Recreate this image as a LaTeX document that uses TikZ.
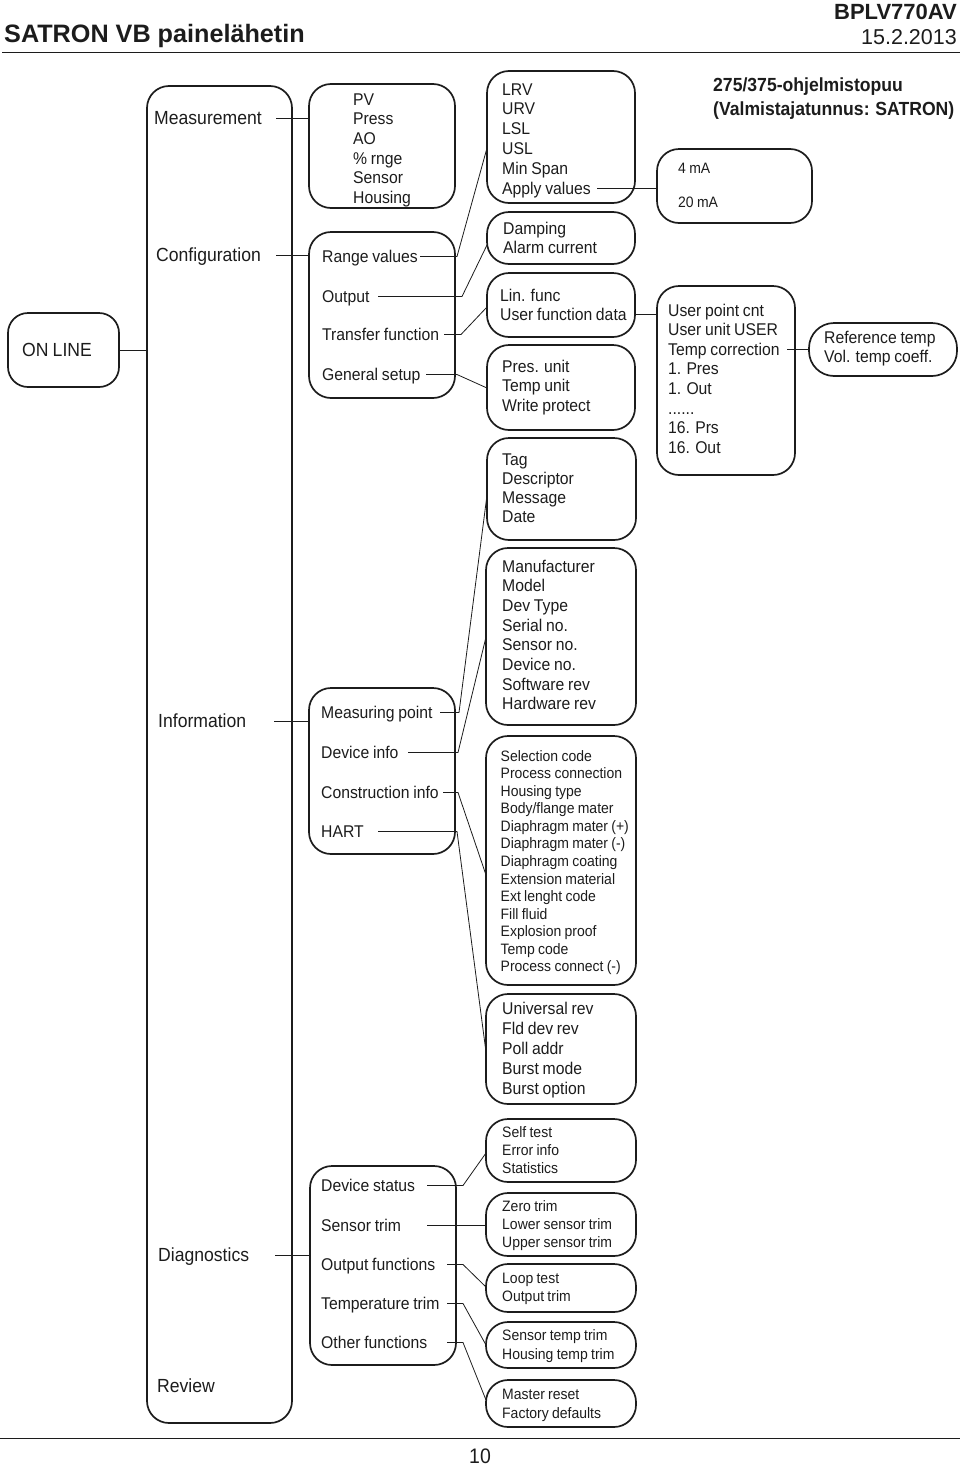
\documentclass[tikz,border=0pt]{standalone}
\usepackage{fontspec}
\setmainfont{Liberation Sans}[FakeStretch=0.926, WordSpace=0.85]
\newfontfamily\hdfont{Liberation Sans}
\definecolor{ink}{HTML}{1C1C1C}
\newcommand\sixdots{......}
% #1 style, #2 name prefix, #3 x, #4 first baseline, #5 line step, #6 list
\newcommand\stacklines[6]{%
  \foreach \itm [count=\ii from 1] in {#6}{%
    \node[#1] (#2\ii) at (#3,{#4+(\ii-1)*#5}) {\itm};}}
% #1 radius, #2 x1, #3 y1, #4 x2, #5 y2, #6 name
\newcommand\rbox[6][22]{%
  \node[box=#1, minimum width={#4-#2}, minimum height={#5-#3}] (#6) at (#2,#3) {};}
\tikzset{
  txt/.style={inner sep=0pt, text=ink, anchor=base west,
    font=\fontsize{17}{20}\selectfont, text height=11pt, text depth=0pt},
  big/.style={txt, font=\fontsize{19}{22}\selectfont, text height=11.5pt},
  sml/.style={txt, font=\fontsize{15.1}{18}\selectfont, text height=10pt},
  box/.style={draw=ink, line width=1.7pt, rounded corners=#1pt,
    anchor=north west, inner sep=0pt, outer sep=0pt},
  box/.default=22,
  conn/.style={draw=ink, line width=0.8pt},
  rule/.style={draw=ink, line width=0.9pt},
}
\begin{document}
\begin{tikzpicture}[x=1pt,y=-1pt]
\useasboundingbox (0,0) rectangle (960,1467);

% ---------- header ----------
\node[inner sep=0pt, text=ink, anchor=base west,
  font=\hdfont\bfseries\fontsize{25.2}{30}\selectfont] (title) at (4,42) {SATRON VB painelähetin};
\node[inner sep=0pt, text=ink, anchor=base east,
  font=\hdfont\bfseries\fontsize{22}{26}\selectfont] (code) at (957,19) {BPLV770AV};
\node[inner sep=0pt, text=ink, anchor=base east,
  font=\hdfont\fontsize{21.5}{26}\selectfont] (date) at (957,44) {15.2.2013};
\draw[rule] (2,52) -- (960,52);
\node[txt, font=\bfseries\fontsize{19}{22}\selectfont] (sw1) at (713,91) {275/375-ohjelmistopuu};
\node[txt, font=\bfseries\fontsize{19}{22}\selectfont] (sw2) at (713,115) {(Valmistajatunnus: SATRON)};

% ---------- boxes ----------
\rbox[20]{8}{313}{119}{387}{online}
\rbox{147}{86}{292}{1423}{b1}
\rbox{309}{84}{455}{208}{meas}
\rbox{309}{232}{455}{398}{conf}
\rbox{309}{688}{455}{854}{info}
\rbox{310}{1166}{456}{1365}{diag}
\rbox{487}{71}{635}{203}{range}
\rbox{487}{212}{635}{264}{outp}
\rbox{487}{273}{635}{337}{trans}
\rbox{487}{345}{635}{430}{units}
\rbox{487}{438}{636}{540}{tag}
\rbox{486}{548}{636}{725}{devinfo}
\rbox{486}{736}{636}{985}{constr}
\rbox{486}{994}{636}{1104}{hart}
\rbox{486}{1119}{636}{1182}{status}
\rbox{486}{1193}{636}{1256}{strim}
\rbox{486}{1264}{636}{1312}{ofunc}
\rbox{486}{1322}{636}{1368}{ttrim}
\rbox{486}{1380}{636}{1427}{other}
\rbox{657}{149}{812}{223}{ma}
\rbox{657}{286}{795}{475}{userpt}
\rbox[25]{809}{323}{957}{376}{reft}

% ---------- texts ----------
\node[big] (ol) at (22,356) {ON LINE};
\node[big] (l-meas) at (154,124) {Measurement};
\node[big] (l-conf) at (156,261) {Configuration};
\node[big] (l-info) at (158,727) {Information};
\node[big] (l-diag) at (158,1261) {Diagnostics};
\node[big] (l-rev) at (157,1392) {Review};

\stacklines{txt}{m}{353}{105}{19.7}{PV,Press,AO,\% rnge,Sensor,Housing}
\node[txt] (c-rv) at (322,262) {Range values};
\node[txt] (c-out) at (322,302) {Output};
\node[txt] (c-tf) at (322,340) {Transfer function};
\node[txt] (c-gs) at (322,380) {General setup};
\node[txt] (i-mp) at (321,718) {Measuring point};
\node[txt] (i-di) at (321,758) {Device info};
\node[txt] (i-ci) at (321,798) {Construction info};
\node[txt] (i-hart) at (321,837) {HART};
\node[txt] (d-ds) at (321,1191) {Device status};
\node[txt] (d-st) at (321,1231) {Sensor trim};
\node[txt] (d-of) at (321,1270) {Output functions};
\node[txt] (d-tt) at (321,1309) {Temperature trim};
\node[txt] (d-oth) at (321,1348) {Other functions};

\stacklines{txt}{r}{502}{95}{19.8}{LRV,URV,LSL,USL,Min Span,Apply values}
\stacklines{txt}{o}{503}{234}{19}{Damping,Alarm current}
\stacklines{txt}{t}{500}{301}{19}{Lin. func,User function data}
\stacklines{txt}{u}{502}{372}{19.5}{Pres. unit,Temp unit,Write protect}
\stacklines{txt}{g}{502}{465}{19.3}{Tag,Descriptor,Message,Date}
\stacklines{txt}{v}{502}{572}{19.7}{Manufacturer,Model,Dev Type,Serial no.,Sensor no.,Device no.,Software rev,Hardware rev}
\stacklines{sml}{k}{500.5}{761}{17.57}{Selection code,Process connection,Housing type,Body/flange mater,Diaphragm mater (+),Diaphragm mater (-),Diaphragm coating,Extension material,Ext lenght code,Fill fluid,Explosion proof,Temp code,Process connect (-)}
\stacklines{txt}{h}{502}{1014}{20}{Universal rev,Fld dev rev,Poll addr,Burst mode,Burst option}
\stacklines{sml}{s}{502}{1137}{18}{Self test,Error info,Statistics}
\stacklines{sml}{z}{502}{1211}{18}{Zero trim,Lower sensor trim,Upper sensor trim}
\stacklines{sml}{l}{502}{1283}{18.5}{Loop test,Output trim}
\stacklines{sml}{e}{502}{1340}{19}{Sensor temp trim,Housing temp trim}
\stacklines{sml}{f}{502}{1399}{19}{Master reset,Factory defaults}
\node[sml] (ma1) at (678,173) {4 mA};
\node[sml] (ma2) at (678,207) {20 mA};
\stacklines{txt}{p}{668}{316}{19.6}{User point cnt,User unit USER,Temp correction,1. Pres,1. Out,\sixdots,16. Prs,16. Out}
\stacklines{txt}{q}{824}{343}{19}{Reference temp,Vol. temp coeff.}

% ---------- connectors ----------
\draw[conn] (online.east) -- (online.east -| b1.west);
\draw[conn] (l-meas.east -| 276,0) -- (l-meas.east -| meas.west);
\draw[conn] (l-conf.east -| 276,0) -- (l-conf.east -| conf.west);
\draw[conn] (l-info.east -| 274,0) -- (l-info.east -| info.west);
\draw[conn] (l-diag.east -| 275,0) -- (l-diag.east -| diag.west);

\draw[conn] (c-rv.east -| 420,0) -- ++(37,0) -- (range.west |- 0,148);
\draw[conn] (c-out.east -| 378,0) -- ++(84,0) -- (outp.west |- 0,245);
\draw[conn] (c-tf.east -| 444,0) -- ++(17,0) -- (trans.west |- 0,307);
\draw[conn] (c-gs.east -| 426,0) -- ++(31,0) -- (units.west |- 0,388);
\draw[conn] (i-mp.east -| 440,0) -- ++(19,0) -- (tag.west |- 0,495);
\draw[conn] (i-di.east -| 408,0) -- ++(50,0) -- (devinfo.west |- 0,637);
\draw[conn] (i-ci.east -| 443,0) -- ++(15,0) -- (constr.west |- 0,875);
\draw[conn] (i-hart.east -| 378,0) -- ++(79,0) -- (hart.west |- 0,1052);

\draw[conn] (r6.east -| 597,0) -- (r6.east -| ma.west);
\draw[conn] (t2.east -| trans.east) -- (t2.east -| userpt.west);
\draw[conn] (p3.east -| 787,0) -- (p3.east -| reft.west);

\draw[conn] (d-ds.east -| 427,0) -- ++(36,0) -- (status.west |- 0,1153);
\draw[conn] (d-st.east -| 427,0) -- (d-st.east -| strim.west);
\draw[conn] (d-of.east -| 447,0) -- ++(16,0) -- (ofunc.west |- 0,1287);
\draw[conn] (d-tt.east -| 447,0) -- ++(16,0) -- (ttrim.west |- 0,1345);
\draw[conn] (d-oth.east -| 447,0) -- ++(16,0) -- (other.west |- 0,1400);

% ---------- footer ----------
\draw[rule] (0,1438) -- (960,1438);
\node[inner sep=0pt, text=ink, anchor=base, font=\fontsize{21}{24}\selectfont] (pg) at (480,1463.5) {10};
\end{tikzpicture}
\end{document}
